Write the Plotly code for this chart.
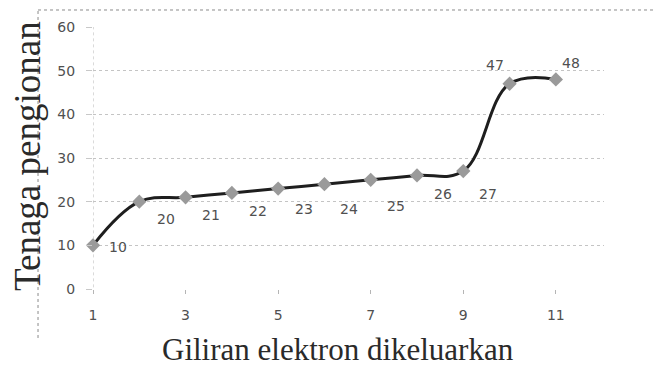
import plotly.graph_objects as go

# Data
electron_no = [1, 2, 3, 4, 5, 6, 7, 8, 9, 10, 11]
ion_energy = [10, 20, 21, 22, 23, 24, 25, 26, 27, 47, 48]
x_ticks = [1, 3, 5, 7, 9, 11]
y_ticks = [0, 10, 20, 30, 40, 50, 60]
x_title = "Giliran elektron dikeluarkan"
y_title = "Tenaga pengionan"

# Label offsets (pixels) – styling only
lbl_dx = [25, 27, 25, 26, 26, 25, 25, 26, 25, -15, 15]
lbl_dy = [2, 17, 18, 18, 20, 25, 26, 19, 23, -19, -16]

fig = go.Figure()
fig.add_trace(go.Scatter(
    x=electron_no, y=ion_energy, mode="lines+markers",
    line=dict(color="#1e1e1e", width=3, shape="spline", smoothing=1.1),
    marker=dict(symbol="diamond", size=11, color="#9a9a9a",
                line=dict(width=0)),
    cliponaxis=False,
    showlegend=False, hoverinfo="x+y",
))

for xv, yv, dx, dy in zip(electron_no, ion_energy, lbl_dx, lbl_dy):
    fig.add_annotation(x=xv, y=yv, text=str(yv), showarrow=False,
                       xshift=dx, yshift=-dy,
                       font=dict(family="DejaVu Sans", size=14, color="#505050"))

# y-axis vertical dotted line at x=1
fig.add_shape(type="line", xref="x", yref="y", x0=1, x1=1, y0=-1, y1=60,
              line=dict(color="#b5b5b5", width=1, dash="dot"), layer="below")

# outer dotted frame (left and top edges)
fig.add_shape(type="line", xref="paper", yref="paper", x0=-0.1076, x1=-0.1076,
              y0=-0.187, y1=1.0649, line=dict(color="#8a8a8a", width=1, dash="dot"))
fig.add_shape(type="line", xref="paper", yref="paper", x0=-0.1076, x1=1.14,
              y0=1.0649, y1=1.0649, line=dict(color="#8a8a8a", width=1, dash="dot"))

fig.add_annotation(xref="paper", yref="paper", x=-0.127, y=0.508, text=y_title,
                   textangle=-90, showarrow=False, xanchor="center", yanchor="middle",
                   font=dict(family="Liberation Serif", size=37, color="#2a2a2a"))
fig.add_annotation(xref="paper", yref="paper", x=0.48, y=-0.232, text=x_title,
                   showarrow=False, xanchor="center", yanchor="middle",
                   font=dict(family="Liberation Serif", size=31, color="#2a2a2a"))

fig.update_layout(
    width=664, height=367,
    margin=dict(l=85, r=68, t=19, b=86),
    paper_bgcolor="white", plot_bgcolor="white",
    xaxis=dict(range=[1, 12.04], tickvals=x_ticks, showgrid=False, zeroline=False,
               showline=False, ticks="outside", ticklen=4, tickcolor="#b5b5b5",
               tickfont=dict(family="DejaVu Sans", size=14, color="#505050"),
               ticklabelstandoff=9),
    yaxis=dict(range=[0, 60], tickvals=y_ticks, showgrid=True, gridcolor="#c4c4c4",
               griddash="dot", gridwidth=1, zeroline=False, showline=False,
               ticks="outside", ticklen=6, tickcolor="#c8c8c8",
               tickfont=dict(family="DejaVu Sans", size=14, color="#505050"),
               ticklabelstandoff=8),
)

fig.write_html("out.html")
